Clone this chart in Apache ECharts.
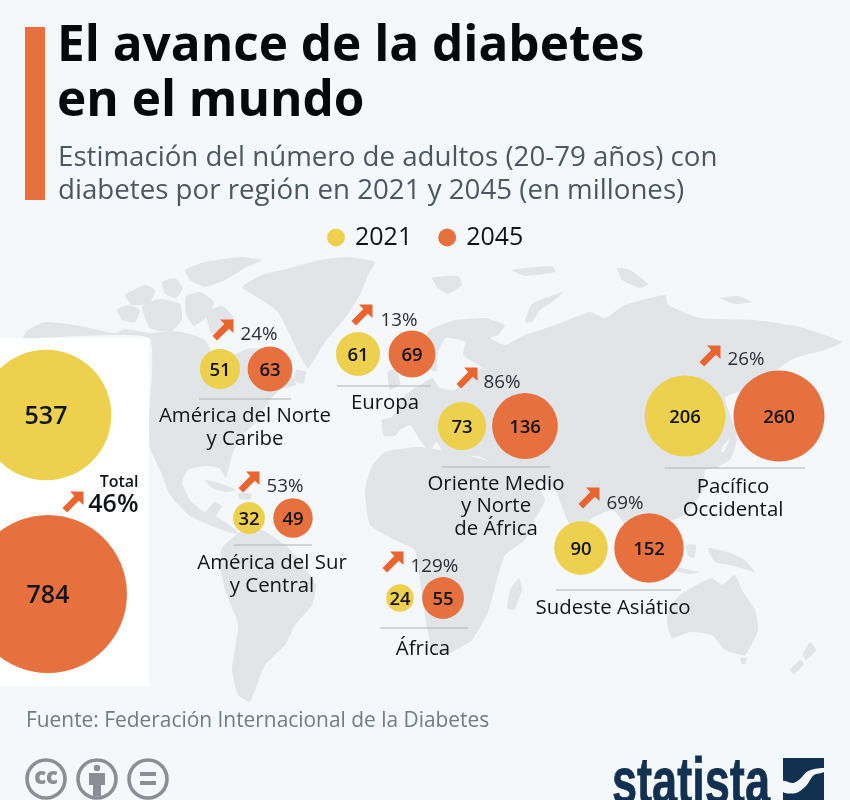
<!DOCTYPE html>
<html>
<head>
<meta charset="utf-8">
<title>El avance de la diabetes en el mundo</title>
<script src="https://cdn.jsdelivr.net/npm/echarts@6/dist/echarts.min.js"></script>
<style>
  html, body { margin: 0; padding: 0; background: #f4f8fb; }
  #chart { width: 850px; height: 800px; }
</style>
</head>
<body>
<div id="chart"></div>
<script>
// Adults with diabetes, millions
const regions = ['América del Norte\ny Caribe', 'Europa', 'Oriente Medio\ny Norte\nde África', 'Pacífico\nOccidental', 'América del Sur\ny Central', 'África', 'Sudeste Asiático'];
const values2021 = [51, 61, 73, 206, 32, 24, 90];
const values2045 = [63, 69, 136, 260, 49, 55, 152];
const growth = ['24%', '13%', '86%', '26%', '53%', '129%', '69%'];
const total2021 = 537;
const total2045 = 784;
const totalGrowth = '46%';
const years = ['2021', '2045'];

// Page layout, in canvas pixels, per region
const centers2021 = [[220, 369], [358, 354], [462, 426], [685, 416], [249, 518], [400, 598], [581, 548]];
const centers2045 = [[270, 369], [412, 354], [525, 426], [779, 416], [293, 518], [443, 598], [649, 548]];
const arrowAt = [[223, 330], [362, 315], [467, 378], [710, 356], [249, 482], [393, 562], [589, 498]];
const growthAt = [[240, 333], [380, 319], [483, 381], [727, 358], [266, 485], [410, 565], [606, 502]];
const ruleSpans = [[199, 291, 399], [337, 431, 386], [442, 550, 467], [665, 805, 468], [234, 312, 545], [380, 468, 628], [556, 681, 590]];
const nameAt = [[245, 426], [385, 402], [496, 505], [733, 497], [272, 573], [423, 648], [613, 607]];

const YELLOW = '#ecd04e';
const ORANGE = '#e7713e';
const ARROW = '#e8652f';
const LAND = '#e2e5e8';
const INK = '#111418';
const FONT = '"Open Sans", "Noto Sans", sans-serif';
const ARROW_PATH = 'path://M36 0H100V64L78 44L22 100L0 78L56 22Z';
// Open Sans sits slightly high in its line box
const TEXT_NUDGE = [0, 1.5];

// Bubble area is proportional to the value
const bubbleSize = v => 5.64 * Math.sqrt(v);

// Backdrop landmasses, outlined in canvas pixels
const landmasses = [
  // North and Central America
  [[23,338],[28,330],[45,322],[75,325],[115,333],[125,329],[150,333],[175,331],[193,335],[205,340],[212,352],[225,358],[240,352],[250,348],[270,350],[285,365],[293,378],[296,385],[280,390],[268,402],[258,420],[240,438],[232,455],[226,478],[219,468],[205,466],[188,470],[182,482],[190,500],[205,512],[214,502],[222,506],[216,516],[228,524],[240,534],[228,532],[212,526],[190,516],[170,495],[160,470],[150,448],[149,420],[149,338]],
  // Greenland
  [[242,287],[262,275],[290,268],[320,260],[348,257],[375,262],[368,275],[360,295],[345,318],[325,342],[308,368],[298,352],[290,335],[278,312],[262,300]],
  // Arctic archipelago
  [[185,270],[205,262],[240,257],[262,260],[245,268],[225,280],[205,287],[190,280]],
  [[125,295],[145,285],[155,290],[150,303],[132,305]],
  [[117,310],[128,305],[140,310],[135,322],[122,320]],
  [[162,282],[175,278],[183,288],[176,298],[165,294]],
  [[142,306],[160,299],[180,304],[182,320],[170,332],[150,328]],
  [[186,296],[200,292],[214,302],[208,316],[194,326],[186,314]],
  [[206,312],[222,306],[234,318],[228,332],[212,334]],
  // Caribbean and Newfoundland
  [[205,480],[222,484],[236,490],[226,492],[212,488]],
  [[238,493],[252,494],[250,500],[240,499]],
  [[296,370],[306,372],[303,384],[294,380]],
  // South America
  [[222,548],[240,532],[262,530],[285,545],[300,560],[316,585],[312,605],[295,625],[285,645],[265,665],[255,690],[250,702],[238,695],[232,670],[238,625],[225,590],[220,565]],
  // Africa and Madagascar
  [[385,452],[420,447],[450,452],[470,456],[490,462],[505,490],[518,515],[535,518],[525,540],[505,555],[497,580],[488,612],[472,640],[445,655],[432,650],[425,615],[420,580],[415,550],[395,540],[370,525],[365,490],[372,466]],
  [[519,578],[522,590],[514,610],[507,608],[510,590]],
  // Eurasia
  [[384,436],[382,420],[392,417],[398,405],[405,395],[420,385],[432,378],[440,388],[455,390],[465,375],[482,368],[463,355],[465,342],[446,338],[438,352],[436,372],[425,365],[415,352],[430,330],[455,320],[485,318],[505,325],[498,335],[490,338],[505,345],[525,335],[555,325],[590,312],[605,318],[625,305],[665,295],[668,305],[700,318],[755,320],[800,327],[842,342],[825,350],[795,358],[775,372],[770,400],[762,388],[745,390],[725,398],[735,430],[722,448],[718,468],[705,470],[703,490],[685,515],[660,525],[650,540],[662,565],[645,580],[635,548],[622,520],[612,510],[590,520],[582,548],[565,515],[555,490],[535,480],[545,500],[535,518],[510,525],[495,490],[490,462],[478,456],[460,456],[444,452],[436,442],[430,452],[420,440],[410,425],[400,430],[395,436]],
  // Britain
  [[388,372],[396,368],[400,384],[390,390]],
  // Japan
  [[708,462],[725,450],[735,425],[737,440],[730,460],[712,468]],
  // Australia, Tasmania, New Zealand
  [[668,610],[680,595],[700,583],[712,578],[722,585],[735,575],[742,590],[755,610],[758,630],[745,655],[725,650],[712,635],[690,632],[672,638],[667,622]],
  [[740,658],[747,658],[745,664],[742,664]],
  [[810,642],[816,650],[806,660],[803,654]],
  [[800,660],[804,664],[794,674],[790,670]],
  // Indonesia and New Guinea
  [[708,548],[728,552],[745,560],[755,572],[735,566],[715,562]],
  [[664,564],[690,570],[700,572],[690,574],[666,569]],
  [[686,545],[696,545],[694,558],[688,556]],
  // Russian Arctic islands
  [[432,278],[458,276],[462,285],[448,294],[438,288]],
  [[512,270],[552,266],[555,272],[525,276]],
  [[525,322],[532,304],[563,292],[555,300],[540,310],[532,322]],
  [[617,268],[630,270],[648,284],[640,288],[622,280]],
  [[720,298],[738,296],[752,302],[735,304]]
];

// Circular licence badges at the foot of the page
function licenceBadges() {
  const ring = cx => ({
    type: 'circle', z: 5,
    shape: { cx, cy: 779, r: 19 },
    style: { fill: 'transparent', stroke: '#8b8f93', lineWidth: 3.6 }
  });
  const grey = { fill: '#8b8f93' };
  return [
    ring(46), ring(97), ring(148),
    { type: 'text', z: 5, style: { x: 46, y: 778, text: 'cc', fill: '#8b8f93', font: '800 22px ' + FONT, align: 'center', verticalAlign: 'middle' } },
    { type: 'circle', z: 5, shape: { cx: 97, cy: 768, r: 3.2 }, style: grey },
    { type: 'polygon', z: 5, shape: { points: [[89, 773], [105, 773], [105, 785], [101, 785], [101, 796], [93, 796], [93, 785], [89, 785]] }, style: grey },
    { type: 'rect', z: 5, shape: { x: 140, y: 772, width: 16, height: 4 }, style: grey },
    { type: 'rect', z: 5, shape: { x: 140, y: 781, width: 16, height: 4 }, style: grey }
  ];
}

function headerAndFooter() {
  const text = (x, y, t, font, fill) => ({
    type: 'text', z: 5, style: { x, y, text: t, font, fill, verticalAlign: 'middle' }
  });
  return [
    { type: 'rect', z: 5, shape: { x: 25, y: 27, width: 20, height: 173 }, style: { fill: ORANGE } },
    text(57, 47, 'El avance de la diabetes', '700 49.5px ' + FONT, '#06090c'),
    text(57, 102, 'en el mundo', '700 49.5px ' + FONT, '#06090c'),
    text(58, 158, 'Estimación del número de adultos (20-79 años) con', '400 27.7px ' + FONT, '#4d5761'),
    text(58, 191, 'diabetes por región en 2021 y 2045 (en millones)', '400 27.7px ' + FONT, '#4d5761'),
    text(26, 721, 'Fuente: Federación Internacional de la Diabetes', '400 20.9px ' + FONT, '#727a82'),
    {
      type: 'text', z: 5, x: 612, y: 785, scaleX: 0.705,
      style: { x: 0, y: 0, text: 'statista', font: '700 64px "Liberation Sans", sans-serif', fill: '#12304f', stroke: '#12304f', lineWidth: 0.8, verticalAlign: 'middle' }
    },
    { type: 'rect', z: 5, shape: { x: 783, y: 758, width: 41, height: 42 }, style: { fill: '#12304f' } },
    { type: 'polygon', z: 6, shape: { points: [[783, 781], [793, 783], [800, 779], [808, 771], [824, 768], [824, 772], [814, 775], [806, 786], [796, 793], [783, 792]], smooth: 0.3 }, style: { fill: '#f4f8fb' } }
  ];
}

const backdrop = landmasses.map(points => ({
  type: 'polygon', z: 0, silent: true,
  shape: { points, smooth: 0.15 },
  style: { fill: LAND }
}));

// White panel that holds the world totals
const totalPanel = { type: 'rect', z: 1, shape: { x: 0, y: 338, width: 149, height: 348 }, style: { fill: '#ffffff' } };

const valueLabel = {
  show: true, position: 'inside', color: INK, fontFamily: FONT, fontWeight: 600, offset: TEXT_NUDGE,
  formatter: p => p.data.value[2]
};
const labelFont = v => (v >= 500 ? 25 : 18.5);

function bubbleSeries(name, color, centers, values, total, totalAt) {
  const rows = values.map((v, i) => [centers[i][0], centers[i][1], v]);
  rows.push([totalAt[0], totalAt[1], total]);
  return {
    name, type: 'scatter', symbol: 'circle', z: 3,
    itemStyle: { color, opacity: 1 },
    symbolSize: d => bubbleSize(d[2]),
    data: rows.map(r => ({ value: r, label: { fontSize: labelFont(r[2]) } })),
    label: valueLabel,
    emphasis: { disabled: true },
    clip: false
  };
}

// Text-only marks: an invisible anchor point that carries a label
const textSeries = (rows, label) => ({
  type: 'scatter', symbol: 'circle', symbolSize: 1, silent: true, z: 4,
  itemStyle: { color: 'rgba(0,0,0,0)', opacity: 1 },
  data: rows,
  label: Object.assign({ show: true, fontFamily: FONT, offset: TEXT_NUDGE, formatter: p => p.data[2] }, label)
});

const arrowRows = arrowAt.concat([[73, 502]]);
const ruleSeries = ruleSpans.map(([a, b, y]) => ({
  type: 'line', z: 2, silent: true, symbol: 'none',
  lineStyle: { color: '#aeb2b5', width: 1 },
  data: [[a, y], [b, y]]
}));

const chart = echarts.init(document.getElementById('chart'), null, { renderer: 'canvas' });
chart.setOption({
  animation: false,
  backgroundColor: '#f4f8fb',
  grid: { left: 0, right: 0, top: 0, bottom: 0 },
  xAxis: { type: 'value', min: 0, max: 850, show: false },
  yAxis: { type: 'value', min: 0, max: 800, inverse: true, show: false },
  legend: {
    left: 322, top: 220, itemWidth: 18, itemHeight: 18, itemGap: 26, icon: 'circle',
    data: years,
    textStyle: { fontFamily: FONT, fontSize: 25, color: INK, padding: [0, 0, 0, 5] },
    selectedMode: false
  },
  graphic: { elements: backdrop.concat([totalPanel], headerAndFooter(), licenceBadges()) },
  series: [
    bubbleSeries(years[0], YELLOW, centers2021, values2021, total2021, [46, 415]),
    bubbleSeries(years[1], ORANGE, centers2045, values2045, total2045, [48, 594]),
    {
      type: 'scatter', symbol: ARROW_PATH, symbolSize: 21, silent: true, z: 4,
      itemStyle: { color: ARROW, opacity: 1 }, data: arrowRows
    },
    textSeries(growthAt.map((p, i) => [p[0], p[1], growth[i]]), { position: 'right', distance: 0, fontSize: 18.8, color: '#2a2f35' }),
    textSeries(nameAt.map((p, i) => [p[0], p[1], regions[i]]), { position: 'inside', align: 'center', fontSize: 20.4, lineHeight: 22.5, color: INK }),
    textSeries([[139, 481, 'Total']], { position: 'left', distance: 0, fontSize: 16, fontWeight: 600, color: INK }),
    textSeries([[139, 503, totalGrowth]], { position: 'left', distance: 0, fontSize: 25, fontWeight: 600, color: INK })
  ].concat(ruleSeries)
});
</script>
</body>
</html>
